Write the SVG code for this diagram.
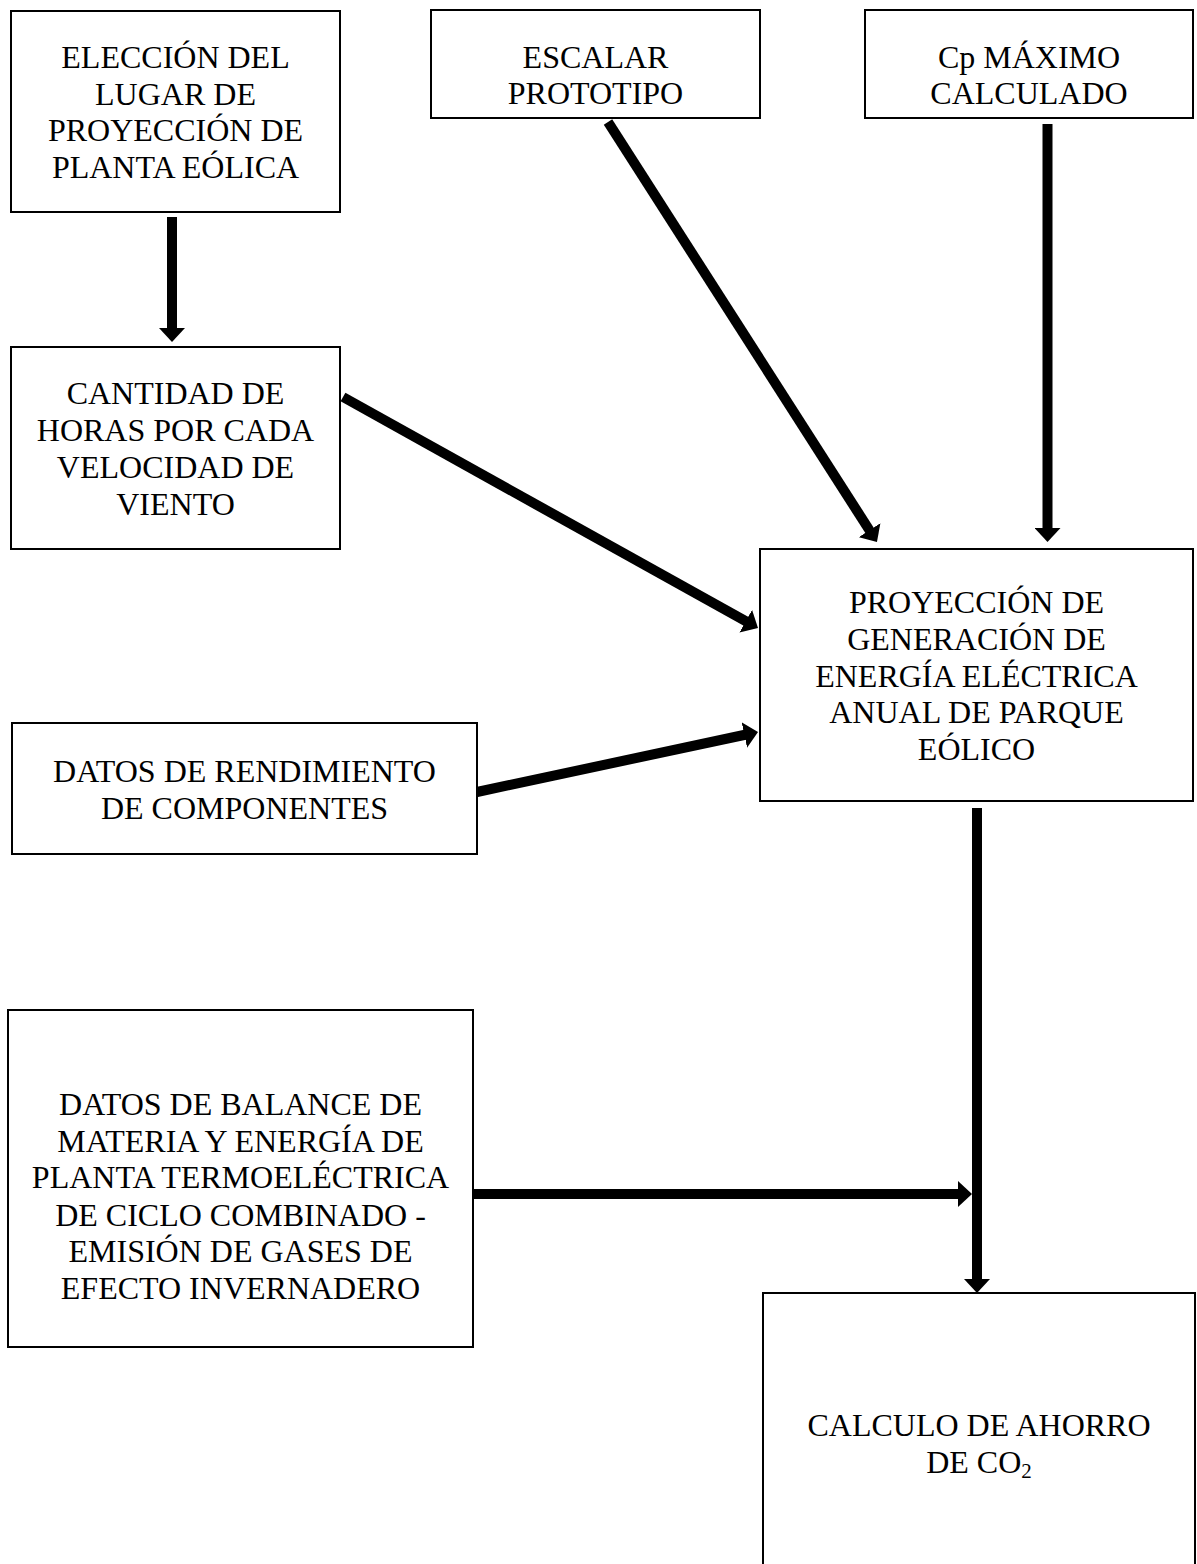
<svg xmlns="http://www.w3.org/2000/svg" width="1197" height="1564" viewBox="0 0 1197 1564">
<style>
.box{fill:#fff;stroke:#000;stroke-width:2}
.t{font-family:"Liberation Serif","Times New Roman",serif;font-size:32px;fill:#000;text-anchor:middle}
.c{stroke:#000;stroke-width:10;fill:none;marker-end:url(#ah)}
</style>
<defs>
<marker id="ah" markerUnits="userSpaceOnUse" viewBox="0 0 14 26" refX="2" refY="13" markerWidth="14" markerHeight="26" orient="auto">
<path d="M0,0 L14,13 L0,26 z" fill="#000"/>
</marker>
</defs>
<rect width="1197" height="1564" fill="#fff"/>
<g id="n1"><rect class="box" x="11" y="11" width="329" height="201"/>
<text class="t"><tspan x="175.5" y="68">ELECCIÓN DEL</tspan><tspan x="175.5" y="105">LUGAR DE</tspan><tspan x="175.5" y="141">PROYECCIÓN DE</tspan><tspan x="175.5" y="178">PLANTA EÓLICA</tspan></text></g>
<g id="n2"><rect class="box" x="431" y="10" width="329" height="108"/>
<text class="t"><tspan x="595.5" y="68">ESCALAR</tspan><tspan x="595.5" y="104">PROTOTIPO</tspan></text></g>
<g id="n3"><rect class="box" x="865" y="10" width="328" height="108"/>
<text class="t"><tspan x="1029" y="68">Cp MÁXIMO</tspan><tspan x="1029" y="104">CALCULADO</tspan></text></g>
<g id="n4"><rect class="box" x="11" y="347" width="329" height="202"/>
<text class="t"><tspan x="175.5" y="404">CANTIDAD DE</tspan><tspan x="175.5" y="441">HORAS POR CADA</tspan><tspan x="175.5" y="478">VELOCIDAD DE</tspan><tspan x="175.5" y="515">VIENTO</tspan></text></g>
<g id="n5"><rect class="box" x="760" y="549" width="433" height="252"/>
<text class="t"><tspan x="976.5" y="613">PROYECCIÓN DE</tspan><tspan x="976.5" y="650">GENERACIÓN DE</tspan><tspan x="976.5" y="687">ENERGÍA ELÉCTRICA</tspan><tspan x="976.5" y="723">ANUAL DE PARQUE</tspan><tspan x="976.5" y="760">EÓLICO</tspan></text></g>
<g id="n6"><rect class="box" x="12" y="723" width="465" height="131"/>
<text class="t"><tspan x="244.5" y="782">DATOS DE RENDIMIENTO</tspan><tspan x="244.5" y="819">DE COMPONENTES</tspan></text></g>
<g id="n7"><rect class="box" x="8" y="1010" width="465" height="337"/>
<text class="t"><tspan x="240.5" y="1115">DATOS DE BALANCE DE</tspan><tspan x="240.5" y="1152">MATERIA Y ENERGÍA DE</tspan><tspan x="240.5" y="1188">PLANTA TERMOELÉCTRICA</tspan><tspan x="240.5" y="1226">DE CICLO COMBINADO -</tspan><tspan x="240.5" y="1262">EMISIÓN DE GASES DE</tspan><tspan x="240.5" y="1299">EFECTO INVERNADERO</tspan></text></g>
<g id="n8"><rect class="box" x="763" y="1293" width="432" height="290"/>
<text class="t"><tspan x="979" y="1436">CALCULO DE AHORRO</tspan><tspan x="979" y="1473">DE CO<tspan font-size="21" dy="5">2</tspan></tspan></text></g>
<g id="connectors">
<line class="c" x1="172" y1="217" x2="172" y2="330"/>
<line class="c" x1="343" y1="397" x2="747.5" y2="622.2"/>
<line class="c" x1="608" y1="122" x2="870.5" y2="531.9"/>
<line class="c" x1="1047.5" y1="124" x2="1047.5" y2="530"/>
<line class="c" x1="477" y1="792" x2="746.3" y2="734.5"/>
<line class="c" x1="977" y1="808" x2="977" y2="1281"/>
<line class="c" x1="473" y1="1194" x2="960" y2="1194"/>
</g>
</svg>
